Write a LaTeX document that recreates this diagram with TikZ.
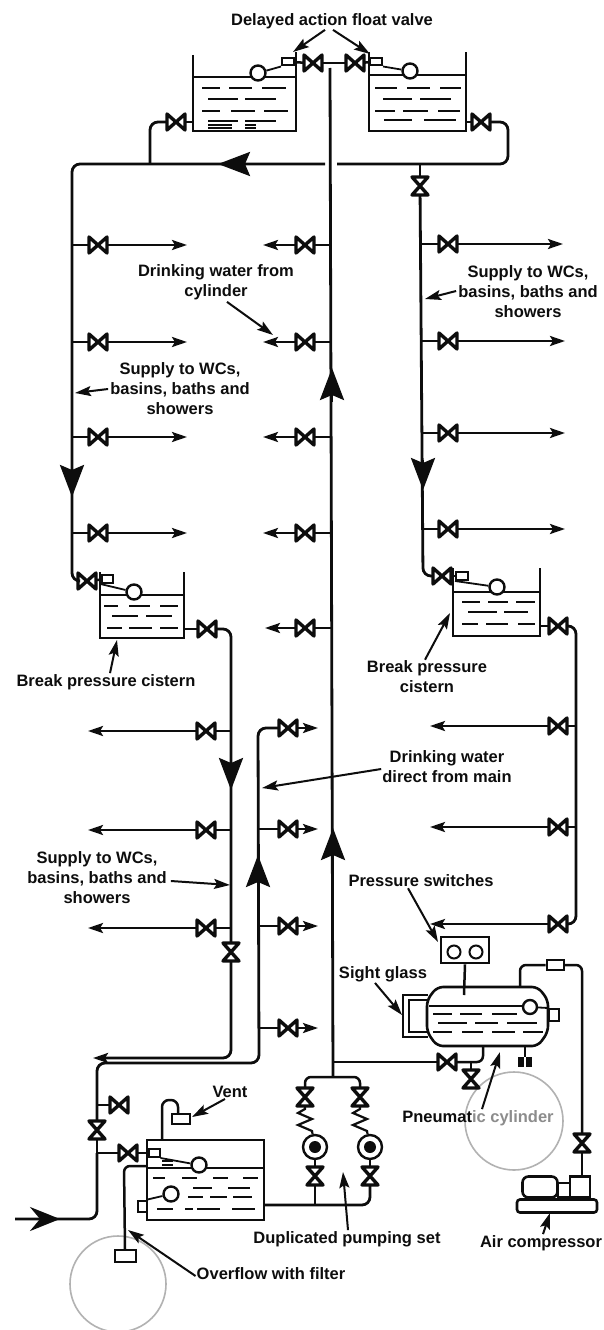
\documentclass[tikz,border=0pt]{standalone}
\usepackage{fontspec}
\setmainfont{Liberation Sans}
\usetikzlibrary{arrows.meta}
\definecolor{ink}{gray}{0.05}
\tikzset{
  pipe/.style={draw=ink,line width=2.8pt,rounded corners=8pt},
  thin pipe/.style={draw=ink,line width=2.5pt,rounded corners=6pt},
  wall/.style={draw=ink,line width=2.6pt},
  water/.style={draw=ink,line width=1.8pt},
  hv/.style={minimum width=22pt,minimum height=20pt,inner sep=0pt,outer sep=-1pt,
    path picture={\draw[draw=ink,line width=3.4pt,line join=round] ([shift={(2pt,2pt)}]path picture bounding box.south west)--([shift={(-2pt,-2pt)}]path picture bounding box.north east)--([shift={(-2pt,2pt)}]path picture bounding box.south east)--([shift={(2pt,-2pt)}]path picture bounding box.north west)--cycle;}},
  vv/.style={minimum width=20pt,minimum height=22pt,inner sep=0pt,outer sep=-1pt,
    path picture={\draw[draw=ink,line width=3.4pt,line join=round] ([shift={(2pt,2pt)}]path picture bounding box.south west)--([shift={(-2pt,2pt)}]path picture bounding box.south east)--([shift={(2pt,-2pt)}]path picture bounding box.north west)--([shift={(-2pt,-2pt)}]path picture bounding box.north east)--cycle;}},
  ball/.style={circle,draw=ink,line width=2.4pt,fill=white,minimum size=15pt,inner sep=0pt},
  smallbox/.style={rectangle,draw=ink,line width=2pt,fill=white,inner sep=0pt},
  pump/.style={circle,draw=ink,line width=2.4pt,fill=white,minimum size=24pt,inner sep=0pt},
  gauge/.style={circle,draw=ink,line width=2pt,minimum size=13pt,inner sep=0pt},
  bigtip/.style={draw=ink,line width=2.8pt,-{Stealth[length=32pt,width=24pt,inset=5pt]}},
  tiph/.style={-{Stealth[length=15pt,width=10pt,inset=3pt]}},
  leader/.style={draw=ink,line width=2pt,-{Stealth[length=16pt,width=10pt,inset=3pt]}},
  lbl/.style={font=\fontsize{16.5}{20}\selectfont\bfseries,text=ink,align=center,inner sep=1pt},
  halo/.style={draw=black!30,line width=1.6pt},
}
\newcommand{\wrow}[2]{\foreach \a/\b in {#2}{\draw[water] (\a,#1) -- (\b,#1);}}
\begin{document}
\begin{tikzpicture}[x=1pt,y=-1pt]
\useasboundingbox (0,0) rectangle (604,1330);
\fill[white] (0,0) rectangle (604,1330);

% grey circles
\node[circle,halo,minimum size=96pt,inner sep=0pt] (haloFilter) at (118,1284) {};
\node[circle,halo,minimum size=98pt,inner sep=0pt] (haloCyl) at (514,1121) {};

% labels
\node[lbl] (lDelayed) at (332,21) {Delayed action float valve};
\node[lbl] (lDrinkCyl) at (216,282) {Drinking water from\\cylinder};
\node[lbl] (lSupL) at (180,389) {Supply to WCs,\\basins, baths and\\showers};
\node[lbl] (lSupR) at (528,292) {Supply to WCs,\\basins, baths and\\showers};
\node[lbl] (lBreakL) at (106,682) {Break pressure cistern};
\node[lbl] (lBreakR) at (427,677) {Break pressure\\cistern};
\node[lbl] (lDrinkMain) at (447,767) {Drinking water\\direct from main};
\node[lbl] (lSupB) at (97,878) {Supply to WCs,\\basins, baths and\\showers};
\node[lbl] (lSwitch) at (421,881) {Pressure switches};
\node[lbl] (lSight) at (383,974) {Sight glass};
\node[lbl] (lVent) at (230,1092) {Vent};
\node[lbl] (lPneu) at (478,1118) {Pneumat{\color{black!45}ic cylinder}};
\node[lbl] (lDup) at (347,1239) {Duplicated pumping set};
\node[lbl] (lAir) at (541,1243) {Air compressor};
\node[lbl] (lOver) at (271,1274) {Overflow with filter};

% central riser
\coordinate (riserTop) at (330,68);
\coordinate (riserBot) at (333,1077);
\draw[pipe] (riserTop) -- (riserBot);
\draw[bigtip] (332,402) -- (332,368);
\draw[bigtip] (333,859) -- (333,828);

% ===== top left tank
\draw[wall] (193,55) -- (193,131) -- (296,131) -- (296,52);
\draw[wall] (194,77) -- (295,77);
\wrow{88}{202/220,229/252,262/286}
\wrow{99}{208/238,245/276}
\wrow{111}{202/220,231/255,264/288}
\wrow{121}{208/238,245/276}
\wrow{125}{208/232,245/256}
\wrow{128}{208/232,245/256}
\node[ball] (bTL) at (258,73) {};
\node[smallbox,minimum width=12pt,minimum height=7pt] (fTL) at (288,62) {};
\draw[water] (bTL) -- (fTL.south west);
\node[hv] (vTL) at (313,63) {};
\node[hv] (vTR) at (355,63) {};
\draw[thin pipe] (fTL) -- (vTL);
\draw[thin pipe] (vTL) -- (vTR);
% top right tank
\draw[wall] (369,52) -- (369,131) -- (466,131) -- (466,52);
\draw[wall] (370,75) -- (465,75);
\wrow{88}{375/397,407/430,440/461}
\wrow{99}{383/412,420/451}
\wrow{111}{375/395,403/428,438/460}
\wrow{120}{384/412,424/456}
\node[ball] (bTR) at (410,71) {};
\node[smallbox,minimum width=12pt,minimum height=7pt] (fTR) at (376,62) {};
\draw[water] (bTR) -- (fTR.south east);
\draw[thin pipe] (vTR) -- (fTR);

% outlets from the top tanks and the ring main
\node[hv] (vOutL) at (176,122) {};
\node[hv] (vOutR) at (481,122) {};
\node[vv] (vDownR) at (420,186) {};
\draw[pipe] (193,122) -- (vOutL);
\draw[pipe] (vOutL) -- (150,122) -- (150,164);
\draw[pipe] (466,122) -- (vOutR);
\draw[pipe] (vOutR) -- (508,122) -- (508,164) -- (337,164);
\draw[pipe] (420,164) -- (vDownR);
\node[hv] (vInL) at (87,581) {};
\node[hv] (vInR) at (442,576) {};
\draw[pipe] (325,164) -- (72,164) -- (72,581) -- (vInL);
\draw[bigtip] (250,164) -- (218,164);
\draw[pipe] (vDownR) -- (423,576) -- (vInR);
\draw[bigtip] (72,463) -- (72,497);
\draw[bigtip] (423,460) -- (423,490);

% branches
\foreach \y in {245,342,437,533}{
  \node[hv] (vA\y) at (98,\y) {};
  \draw[thin pipe] (72,\y) -- (vA\y);
  \draw[thin pipe,tiph] (vA\y) -- (187,\y);
}
\foreach \y/\t in {245/263,342/263,437/263,533/263,628/265}{
  \node[hv] (vB\y) at (305,\y) {};
  \draw[thin pipe] (331,\y) -- (vB\y);
  \draw[thin pipe,tiph] (vB\y) -- (\t,\y);
}
\foreach \y/\t in {244/563,341/565,433/565,529/565}{
  \node[hv] (vC\y) at (448,\y) {};
  \draw[thin pipe] (421,\y) -- (vC\y);
  \draw[thin pipe,tiph] (vC\y) -- (\t,\y);
}

% left break pressure cistern
\draw[wall] (100,572) -- (100,638) -- (184,638) -- (184,572);
\draw[wall] (100,595) -- (184,595);
\wrow{606}{104/118,129/150,160/178}
\wrow{616}{112/138,146/172}
\wrow{628}{107/122,129/152,160/178}
\node[ball] (bCL) at (134,592) {};
\node[smallbox,minimum width=11pt,minimum height=8pt] (fCL) at (107,579) {};
\draw[water] (bCL) -- (fCL.south west);
\draw[thin pipe] (vInL) -- (fCL);
\node[hv] (vCLout) at (207,629) {};
\node[vv] (vLow) at (231,952) {};
\draw[pipe] (184,629) -- (vCLout);
\draw[pipe] (vCLout) -- (231,629) -- (vLow);
\draw[pipe,tiph] (vLow) -- (231,1058) -- (93,1058);
\draw[bigtip] (231,760) -- (231,790);
\foreach \y in {731,830,928}{
  \node[hv] (vD\y) at (206,\y) {};
  \draw[thin pipe] (231,\y) -- (vD\y);
  \draw[thin pipe,tiph] (vD\y) -- (88,\y);
}

% right break pressure cistern
\draw[wall] (453,568) -- (453,636) -- (540,636) -- (540,568);
\draw[wall] (453,592) -- (540,592);
\wrow{602}{462/480,488/508,516/535}
\wrow{612}{468/497,504/528}
\wrow{624}{462/478,486/508,518/535}
\node[ball] (bCR) at (497,587) {};
\node[smallbox,minimum width=12pt,minimum height=8pt] (fCR) at (462,576) {};
\draw[water] (bCR) -- (fCR.south west);
\draw[thin pipe] (vInR) -- (fCR);
\node[hv] (vCRout) at (558,626) {};
\node[hv] (vR726) at (558,726) {};
\node[hv] (vR827) at (558,827) {};
\node[hv] (vR924) at (558,924) {};
\draw[pipe] (540,626) -- (vCRout);
\draw[pipe] (vCRout) -- (576,626) -- (576,924) -- (vR924);
\draw[thin pipe,tiph] (vR924) -- (430,924);
\draw[thin pipe] (576,726) -- (vR726);
\draw[thin pipe,tiph] (vR726) -- (430,726);
\draw[thin pipe] (576,827) -- (vR827);
\draw[thin pipe,tiph] (vR827) -- (430,827);

% drinking water direct from main
\node[hv] (vM728) at (288,728) {};
\node[vv] (vInlet) at (97,1130) {};
\coordinate (inlet) at (15,1219);
\draw[pipe] (inlet) -- (97,1219) -- (97,1153);
\draw[pipe] (97,1153) -- (vInlet);
\draw[pipe] (vInlet) -- (97,1063) -- (259,1063) -- (258,728) -- (vM728);
\draw[thin pipe,tiph] (vM728) -- (318,728);
\draw[draw=ink,line width=2.8pt,-{Stealth[length=30pt,width=24pt,inset=10pt]}] (24,1219) -- (60,1219);
\draw[bigtip] (258,886) -- (258,855);
\foreach \y in {829,926,1028}{
  \node[hv] (vM\y) at (288,\y) {};
  \draw[thin pipe] (258,\y) -- (vM\y);
  \draw[thin pipe,tiph] (vM\y) -- (318,\y);
}

% break tank
\node[hv] (vSide) at (119,1105) {};
\node[hv] (vFeed) at (128,1153) {};
\draw[thin pipe] (97,1105) -- (vSide);
\draw[thin pipe] (97,1153) -- (vFeed);
\draw[wall] (147,1140) rectangle (264,1220);
\draw[wall] (147,1168) -- (264,1168);
\wrow{1178}{153/165,182/197,213/228,243/258}
\wrow{1188}{193/212,228/250}
\wrow{1197}{188/203,210/227,233/252}
\wrow{1209}{157/173,185/193,197/220,232/255}
\wrow{1161}{162/173}
\wrow{1165}{162/173}
\node[smallbox,minimum width=11pt,minimum height=8pt] (fBT) at (154,1153) {};
\draw[thin pipe] (vFeed) -- (fBT);
\node[ball] (bBT) at (199,1165) {};
\draw[water] (fBT.south east) -- (bBT);
\node[ball] (bBT2) at (171,1194) {};
\node[smallbox,minimum width=9pt,minimum height=11pt] (fBT2) at (142,1206) {};
\draw[water] (fBT2.north east) -- (bBT2);
% vent
\node[smallbox,minimum width=18pt,minimum height=10pt] (bVent) at (181,1119) {};
\draw[thin pipe,rounded corners=7pt] (162,1140) -- (162,1100) -- (178,1100) -- (bVent.north -| 178,0);
% overflow
\node[smallbox,minimum width=21pt,minimum height=12pt] (bFilter) at (125,1256) {};
\draw[thin pipe] (147,1166) -- (124,1166) -- (bFilter.north);

% outlet to pumps
\node[pump] (pL) at (315,1147) {};
\node[pump] (pR) at (370,1147) {};
\fill[ink] (pL) circle (6);
\fill[ink] (pR) circle (6);
\node[vv] (vPL2) at (315,1176) {};
\node[vv] (vPR2) at (370,1176) {};
\node[vv] (vPL1) at (305,1097) {};
\node[vv] (vPR1) at (360,1097) {};
\draw[pipe] (264,1205) -- (370,1205) -- (vPR2);
\draw[pipe] (315,1205) -- (vPL2);
\draw[thin pipe] (vPL2) -- (pL);
\draw[thin pipe] (vPR2) -- (pR);
\draw[thin pipe] (vPL1) -- (305,1077) -- (360,1077) -- (vPR1);
\draw[line width=2.2pt,draw=ink] (vPL1) -- (305,1109) -- (298,1113) -- (312,1119) -- (298,1125) -- (312,1131) -- (pL);
\draw[line width=2.2pt,draw=ink] (vPR1) -- (360,1109) -- (353,1113) -- (367,1119) -- (353,1125) -- (367,1131) -- (pR);

% pneumatic cylinder
\draw[wall,fill=white,rounded corners=6pt] (437,987) -- (538,987) -- (548,1000) -- (548,1032) -- (538,1046) -- (437,1046) -- (427,1032) -- (427,1000) -- cycle;
\draw[wall] (429,1006) -- (524,1006);
\wrow{1014}{433/452,460/482,492/517}
\wrow{1023}{438/467,475/498,507/537}
\wrow{1032}{433/452,462/483,492/515,523/543}
\node[ball,minimum size=14pt] (bCyl) at (530,1007) {};
\node[smallbox,minimum width=10pt,minimum height=12pt] (bCylR) at (554,1015) {};
\draw[water] (bCyl) -- (bCylR.north west);
\draw[line width=1.7pt,draw=ink] (428,995) -- (403,995) -- (403,1037) -- (428,1037);
\draw[line width=1.5pt,draw=ink] (428,1000) -- (409,1000) -- (409,1032) -- (428,1032);
% pressure switches
\node[draw=ink,line width=2.6pt,minimum width=48pt,minimum height=26pt,inner sep=0pt] (swBox) at (465,950) {};
\node[gauge] (g1) at (454,952) {};
\node[gauge] (g2) at (476,952) {};
\draw[thin pipe] (swBox.south) -- (464,995);
% connection to riser
\node[hv] (vCyl) at (447,1062) {};
\node[vv] (vDrain) at (471,1079) {};
\draw[thin pipe] (333,1062) -- (vCyl);
\draw[thin pipe] (vCyl) -- (483,1062) -- (483,1046);
\draw[thin pipe] (471,1062) -- (vDrain);
\draw[thin pipe] (525,1046) -- (525,1057);
\node[minimum width=14pt,minimum height=10pt,inner sep=0pt,path picture={\fill[ink] (path picture bounding box.north west) rectangle ([xshift=-1pt]path picture bounding box.south); \fill[ink] (path picture bounding box.north east) rectangle ([xshift=1pt]path picture bounding box.south);}] (stub) at (525,1062) {};
% compressor
\node[smallbox,minimum width=17pt,minimum height=10pt] (bCoup) at (555,965) {};
\node[vv] (vAir) at (582,1143) {};
\draw[thin pipe] (520,987) -- (520,965) -- (bCoup);
\draw[thin pipe] (bCoup) -- (582,965) -- (vAir);
\node[draw=ink,line width=2.6pt,rounded corners=3pt,minimum width=80pt,minimum height=13pt,inner sep=0pt] (base) at (557,1206) {};
\node[draw=ink,line width=2.6pt,rounded corners=6pt,minimum width=35pt,minimum height=21pt,inner sep=0pt] (motor) at (540,1187) {};
\node[draw=ink,line width=2pt,minimum width=12pt,minimum height=14pt,inner sep=0pt] (coupling) at (564,1190) {};
\node[draw=ink,line width=2.6pt,minimum width=20pt,minimum height=21pt,inner sep=0pt] (comp) at (580,1187) {};
\draw[thin pipe] (vAir) -- (comp.north -| vAir);

% leaders
\coordinate (tDelL) at (293,52);
\coordinate (tDelR) at (370,54);
\coordinate (tCyl) at (273,335);
\coordinate (tSupL) at (75,393);
\coordinate (tSupR) at (425,299);
\coordinate (tBrL) at (117,640);
\coordinate (tBrR) at (450,613);
\coordinate (tDrM) at (262,788);
\coordinate (tSupB) at (230,885);
\coordinate (tSwitch) at (438,942);
\coordinate (tSight) at (402,1015);
\coordinate (tVent) at (192,1117);
\coordinate (tPneu) at (500,1052);
\coordinate (tDup) at (343,1172);
\coordinate (tAir) at (550,1213);
\coordinate (tOver) at (128,1230);
\draw[leader] ([xshift=-7pt]lDelayed.south) -- (tDelL);
\draw[leader] ([xshift=1pt]lDelayed.south) -- (tDelR);
\draw[leader] ([xshift=11pt,yshift=-1pt]lDrinkCyl.south) -- (tCyl);
\draw[leader] ([xshift=-1pt]lSupL.west) -- (tSupL);
\draw[leader] ([xshift=-1pt,yshift=1pt]lSupR.west) -- (tSupR);
\draw[leader] ([xshift=4pt]lBreakL.north) -- (tBrL);
\draw[leader] ([xshift=-2pt]lBreakR.north) -- (tBrR);
\draw[leader] ([yshift=-2pt]lDrinkMain.west) -- (tDrM);
\draw[leader] ([xshift=3pt,yshift=-3pt]lSupB.east) -- (tSupB);
\draw[leader] ([xshift=-13pt]lSwitch.south) -- (tSwitch);
\draw[leader] ([xshift=-8pt]lSight.south) -- (tSight);
\draw[leader] ([xshift=-5pt]lVent.south) -- (tVent);
\draw[leader] ([xshift=4pt]lPneu.north) -- (tPneu);
\draw[leader] ([xshift=1pt]lDup.north) -- (tDup);
\draw[leader] ([xshift=2pt]lAir.north) -- (tAir);
\draw[leader] ([yshift=-2pt]lOver.west) -- (tOver);
\end{tikzpicture}
\end{document}
